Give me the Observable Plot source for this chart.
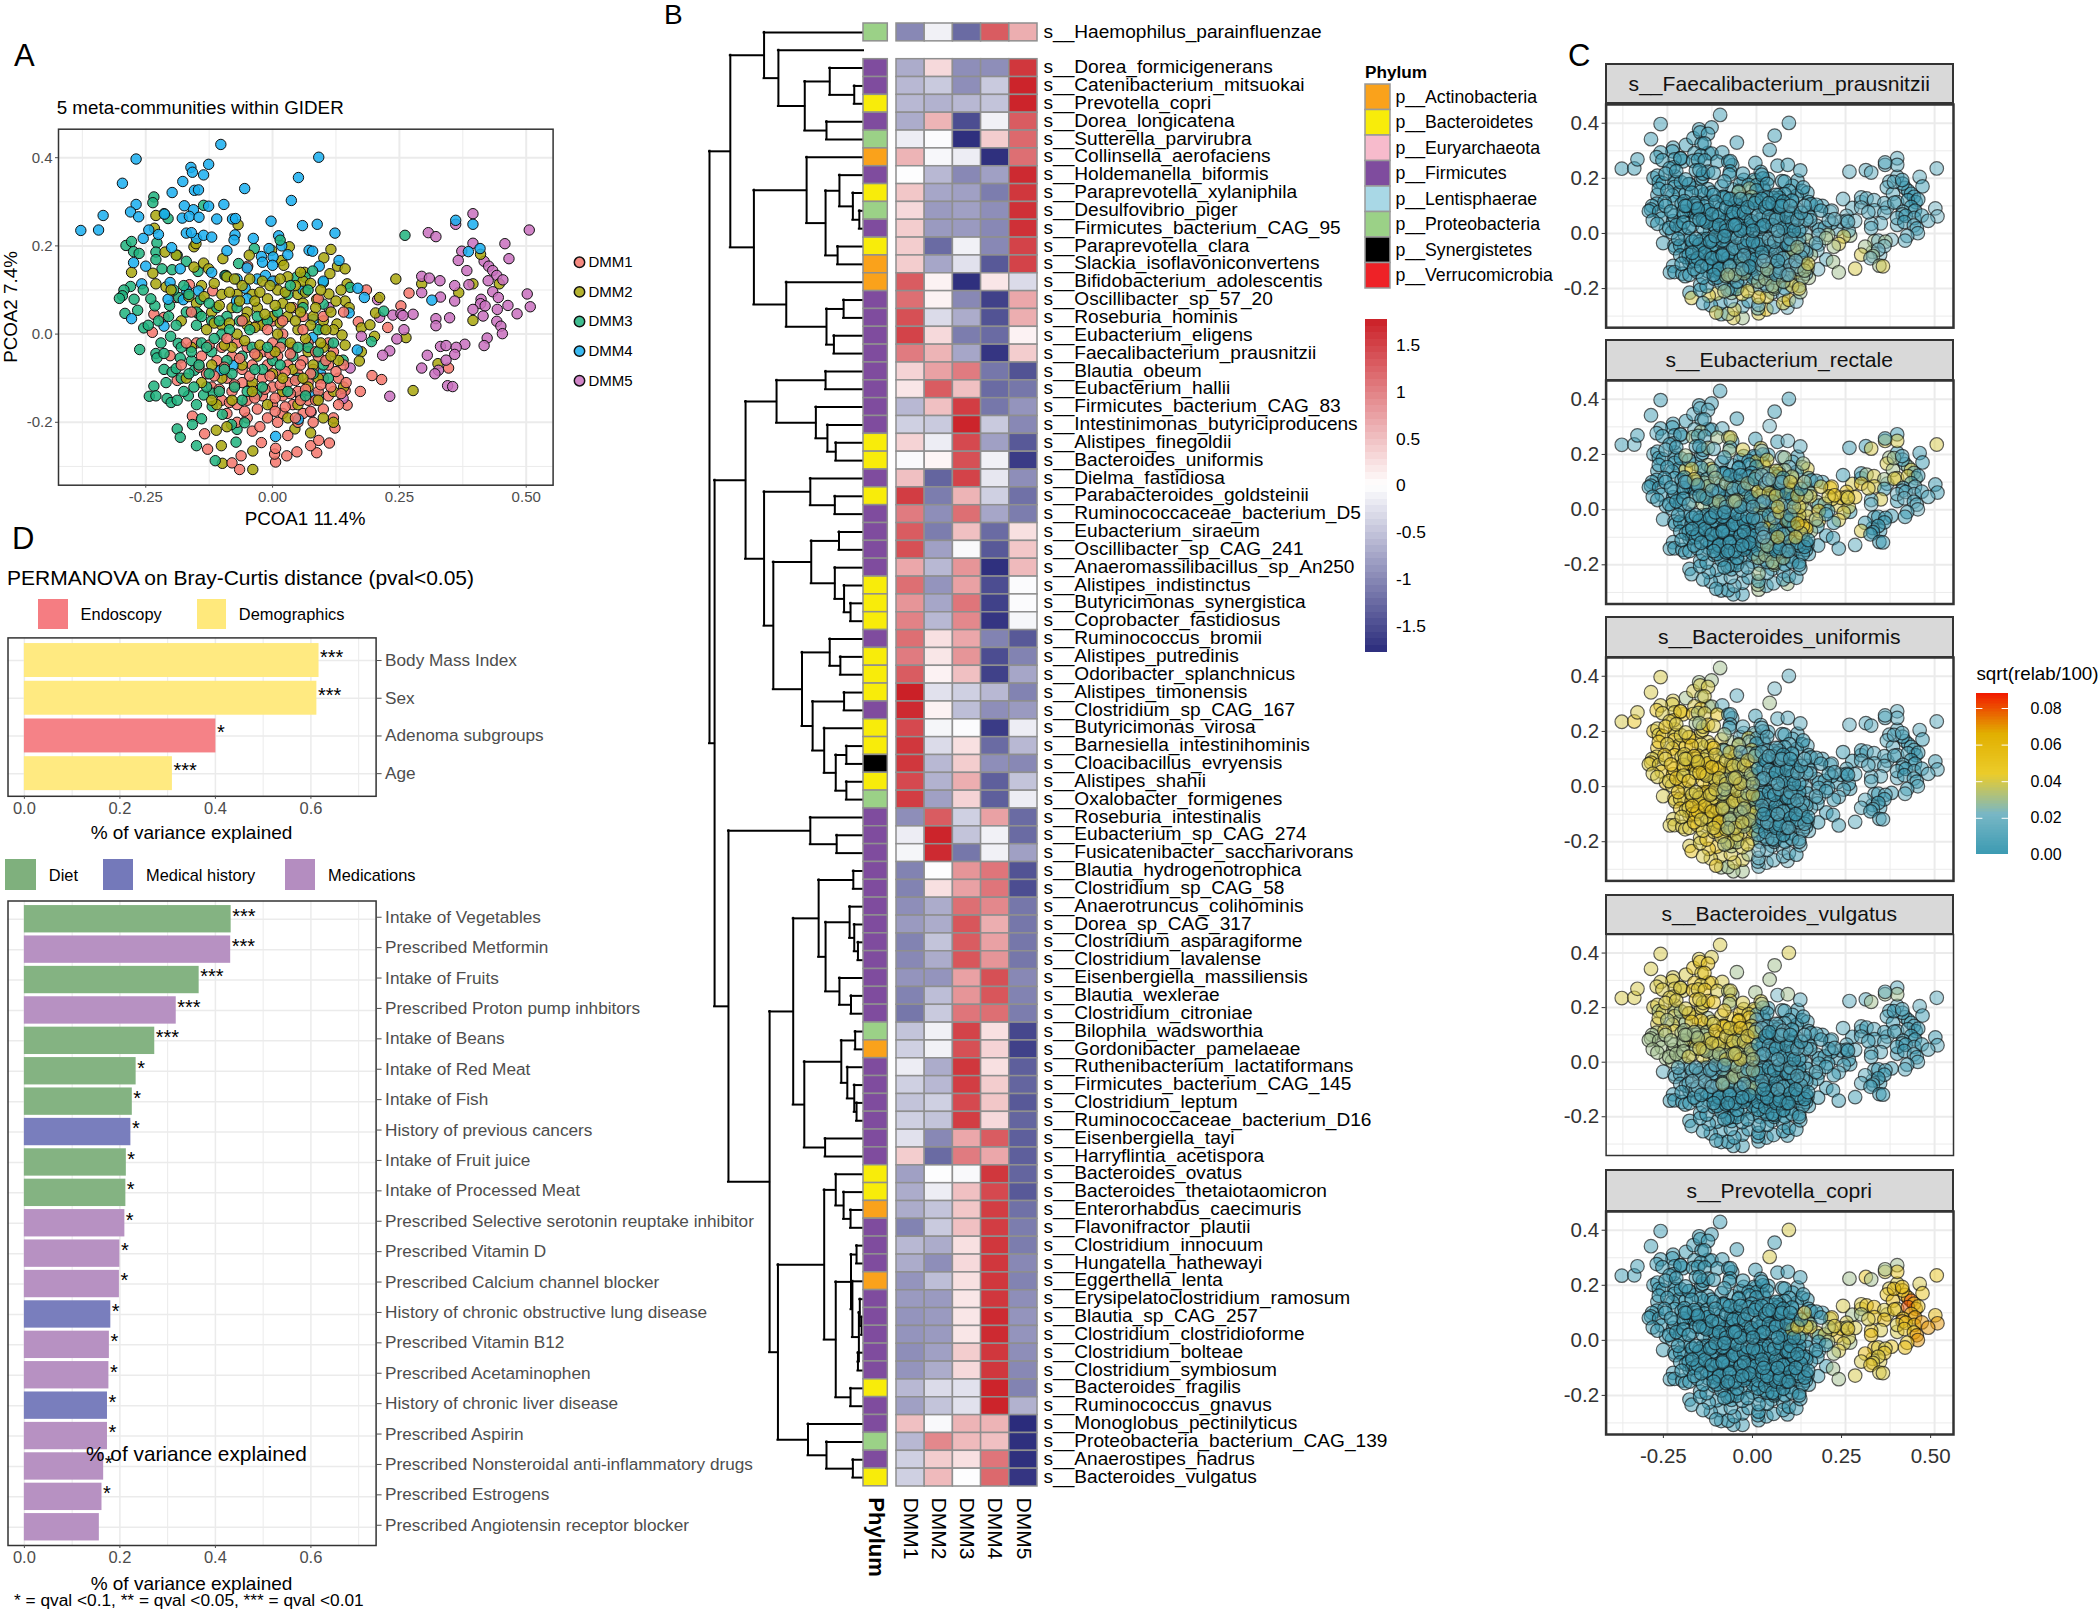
<!DOCTYPE html>
<html><head><meta charset="utf-8">
<script src="https://cdn.jsdelivr.net/npm/d3@7"></script>
<script src="https://cdn.jsdelivr.net/npm/@observablehq/plot@0.6"></script>
<style>
html,body{margin:0;padding:0;background:#fff}
#root{position:relative;width:2100px;height:1611px;overflow:hidden;font-family:"Liberation Sans",Arial,sans-serif}
.lab{position:absolute;white-space:nowrap;line-height:1.1}
svg{font-family:"Liberation Sans",Arial,sans-serif}
</style></head><body><div id="root"></div>
<script>
// ---------- Panel A / C: PCoA coordinates ----------
const dmm1=[[.269,.093],[.253,.064],[.185,.1],[.169,.028],[.227,.015],[.347,-.077],[.196,-.094],[.215,-.103],[.173,-.13],[-.065,-.307],[-.08,-.292],[-.062,-.276],[.006,-.29],[.028,-.276],[.048,-.267],[.087,-.269],[.075,-.253],[.091,-.241],[.112,-.247],[-.022,-.246],[-.128,-.261],[.004,-.272],[.006,-.259],[-.134,-.226],[-.158,-.186],[.123,-.213],[.147,-.161],[.143,-.128],[-.237,.004],[-.234,.045],[-.214,.038],[-.202,-.049],[-.188,-.105],[-.164,.112],[-.19,.083],[-.118,.098],[.004,.12],[-.049,.154],[-.15,-.02],[-.14,-.05],[-.13,-.09],[-.12,-.12],[-.11,-.06],[-.1,-.15],[-.1,-.03],[-.09,-.18],[-.09,-.1],[-.08,-.13],[-.08,-.05],[-.07,-.2],[-.07,-.16],[-.07,-.02],[-.06,-.11],[-.06,-.08],[-.05,-.15],[-.05,-.19],[-.05,-.03],[-.04,-.22],[-.04,-.12],[-.04,-.07],[-.03,-.17],[-.03,.02],[-.02,-.1],[-.02,-.14],[-.02,-.04],[-.01,-.19],[-.01,-.07],[0,-.12],[0,-.16],[0,-.02],[0,.03],[.01,-.2],[.01,-.09],[.01,-.05],[.02,-.14],[.02,-.18],[.02,0],[.03,-.11],[.03,-.07],[.03,-.23],[.04,-.16],[.04,-.03],[.04,.06],[.05,-.09],[.05,-.13],[.05,-.2],[.06,-.06],[.06,-.18],[.06,.04],[.07,-.11],[.07,-.15],[.07,-.02],[.08,-.08],[.08,-.2],[.09,-.13],[.09,-.05],[.09,.08],[.1,-.17],[.1,-.1],[.11,-.02],[.11,-.07],[.11,-.14],[.12,-.19],[.12,-.04],[.13,-.1],[.13,-.16],[.14,-.07],[.14,.05],
[-.145,-.075],[-.125,-.025],[-.115,-.095],[-.105,-.125],[-.095,-.075],[-.085,-.155],[-.075,-.115],[-.065,-.055],[-.055,-.175],[-.045,-.095],[-.035,-.045],[-.035,-.145],[-.025,-.21],[-.015,-.125],[-.005,-.045],[-.005,-.095],[.005,-.175],[.005,-.145],[.015,-.115],[.015,-.03],[.025,-.165],[.025,-.085],[.035,-.135],[.035,-.045],[.045,-.105],[.045,-.19],[.055,-.15],[.055,-.07],[.065,-.125],[.075,-.09],[.075,-.175],[.085,-.04],[.085,-.15],[.095,-.115],[.105,-.06],[.115,-.12],[.125,-.085],[.135,-.135],[.145,-.11],[.02,.03],[-.01,.01],[-.06,.03],[-.09,-.01],[.06,.01],[.1,.04],[-.18,-.07],[-.17,-.02],[-.16,.05]];
const dmm2=[[-.039,-.307],[-.099,-.293],[-.039,-.265],[-.101,-.253],[.044,-.215],[.075,-.224],[-.111,-.218],[.277,-.128],[.326,-.067],[.263,-.008],[.395,.031],[.367,.094],[.243,.125],[.294,.114],[.41,.181],[.395,.114],[.447,.114],[-.23,.269],[-.233,.24],[-.068,.248],[-.278,.14],[-.155,.198],[-.151,.205],[-.236,.138],[-.212,.186],[-.19,.179],[-.23,.114],[-.21,.107],[-.136,.161],[-.126,.148],[-.155,.152],[-.098,.171],[-.046,.179],[-.002,.19],[.033,.198],[.115,.192],[.101,.173],[.018,.167],[.022,.156],[.128,.154],[.143,.148],[.113,.137],[.063,.14],[.147,.114],[.087,.079],[.111,.091],[.143,.075],[.151,.06],[.127,.023],[.175,.014],[.192,.021],[.211,.083],[.203,.048],[.137,-.002],[.143,-.025],[.175,-.04],[.201,-.005],[.171,-.061],[-.18,.03],[-.16,-.03],[-.15,.07],[-.14,.11],[-.13,.01],[-.12,.05],[-.12,-.07],[-.1,.09],[-.1,.02],[-.1,-.1],[-.09,.13],[-.08,.06],[-.08,-.03],[-.07,.09],[-.07,0],[-.06,.11],[-.06,-.07],[-.05,.05],[-.05,.02],[-.04,.09],[-.04,-.11],[-.03,.06],[-.03,-.05],[-.02,.12],[-.02,.02],[-.01,.08],[-.01,-.16],[0,.04],[0,-.09],[.01,.1],[.01,0],[.02,.07],[.02,-.13],[.03,.13],[.03,.04],[.03,-.19],[.04,-.08],[.05,.09],[.05,.01],[.05,-.16],[.06,.12],[.06,.07],[.07,-.04],[.07,-.12],[.08,.04],[.08,-.07],[.09,-.1],[.1,.03],[.1,-.03],[.1,-.19],[.12,.01],[.12,-.13],[.13,-.06],[.14,-.12],[-.11,-.16],[-.14,-.11],[-.17,-.1],[-.09,-.21],[.12,-.2],
[-.165,.085],[-.145,.045],[-.135,.085],[-.115,.115],[-.115,.025],[-.105,.065],[-.095,-.025],[-.085,.095],[-.085,.025],[-.075,.125],[-.065,.075],[-.055,.035],[-.055,-.015],[-.045,.125],[-.035,.075],[-.035,.015],[-.025,.095],[-.025,-.025],[-.015,.045],[-.005,.11],[.005,.065],[.005,-.04],[.015,.125],[.015,.025],[.025,.095],[.035,.06],[.035,-.02],[.045,.11],[.045,.03],[.055,.14],[.055,.05],[.065,.095],[.065,-.01],[.075,.02],[.075,.115],[.085,.06],[.095,.1],[.095,-.02],[.105,.01],[.115,.05],[.125,.075],[.135,.1],[.115,-.05],[-.04,-.13],[.02,-.1],[.06,-.1],[-.12,-.15],[-.08,-.15],[.09,-.15],[-.2,.1]];
const dmm3=[[.261,.224],[-.234,.311],[-.236,.298],[-.136,.292],[-.206,.262],[-.214,.273],[-.289,.201],[-.278,.21],[-.274,.187],[-.263,.183],[-.228,.207],[-.23,.186],[-.23,.169],[-.218,.148],[-.188,.179],[-.17,.165],[-.147,.142],[-.198,.146],[-.036,.194],[-.067,.16],[-.28,.108],[-.293,.1],[-.296,.087],[-.302,.081],[-.273,.079],[-.266,.054],[-.291,.047],[-.254,.014],[-.262,-.035],[-.23,-.044],[-.228,-.054],[-.214,-.044],[-.214,-.08],[-.198,-.086],[-.182,-.054],[-.19,-.078],[-.234,-.118],[-.243,-.141],[-.23,-.14],[-.208,-.146],[-.2,-.155],[-.188,-.15],[-.188,-.215],[-.182,-.234],[-.15,-.253],[-.113,-.287],[-.072,-.245],[-.07,-.216],[-.158,-.205],[-.14,-.192],[-.119,-.164],[-.118,-.134],[-.136,-.138],[-.166,-.14],[-.154,-.082],[-.201,-.005],[-.186,-.021],[-.232,.064],[-.203,.065],[-.185,.083],[-.142,.079],[.1,.117],[.153,.106],[.079,.143],[.064,.129],[.047,.129],[-.092,.133],[.015,.213],[.099,.012],[.139,-.059],[.091,-.142],[.055,-.14],[-.031,-.136],[-.055,-.201],[-.081,-.205],[-.099,-.182],[.195,-.017],[.219,.052],[.1,.068],[-.17,.05],[-.15,.02],[-.14,-.02],[-.12,.03],[-.12,-.04],[-.11,.06],[-.1,0],[-.09,-.06],[-.09,.04],[-.08,-.09],[-.07,.06],[-.06,-.05],[-.05,-.13],[-.04,-.03],[-.03,.04],[-.02,-.08],[-.01,.03],[0,-.06],[.01,.05],[.02,-.02],[.03,.09],[.04,-.05],[.05,-.1],[.06,.06],[.07,-.03],[.08,-.09],[.09,.01],[.1,-.07],[.12,-.02],[-.16,-.06],[-.18,-.1],[-.13,-.12],[-.15,-.16],
[-.255,.1],[-.24,.08],[-.245,.02],[-.225,.03],[-.22,-.02],[-.205,.04],[-.21,-.11],[-.195,.1],[-.19,.02],[-.18,-.03],[-.175,.11],[-.175,-.13],[-.165,.09],[-.165,-.09],[-.16,-.04],[-.155,-.12],[-.15,.05],[-.145,-.07],[-.14,.04],[-.13,-.03],[-.125,.07],[-.125,-.09],[-.115,-.01],[-.105,.03],[-.105,-.13],[-.095,-.08],[-.085,.01],[-.075,-.12],[-.065,.03],[-.06,-.15],[-.045,.01],[-.035,-.08],[-.02,-.12],[-.01,-.03],[.015,-.07],[.03,-.13],[.05,-.03],[.065,-.14],[.09,-.04],[.11,-.1],[.07,.1],[.035,.11]];
const dmm4=[[-.378,.235],[-.343,.236],[-.334,.269],[-.296,.342],[-.269,.397],[-.102,.43],[.091,.401],[.051,.355],[-.055,.33],[.037,.303],[-.198,.321],[-.177,.346],[-.161,.378],[-.158,.367],[-.126,.385],[-.136,.361],[-.154,.326],[-.146,.327],[-.174,.291],[-.156,.282],[-.126,.29],[-.096,.294],[-.269,.294],[-.28,.277],[-.264,.266],[-.213,.272],[-.178,.263],[-.164,.267],[-.145,.265],[-.11,.261],[-.079,.261],[-.073,.262],[-.003,.256],[.059,.246],[.088,.249],[.123,.229],[-.244,.236],[-.255,.217],[-.225,.226],[-.17,.229],[-.15,.217],[-.136,.224],[-.074,.225],[-.076,.213],[-.038,.217],[.012,.223],[-.007,.194],[.018,.2],[-.09,.189],[-.199,.196],[.072,.19],[.079,.188],[-.274,.162],[-.25,.154],[-.182,.148],[-.022,.176],[.001,.175],[-.02,.163],[0,.156],[.131,.167],[.092,.154],[-.258,.114],[-.202,.117],[-.094,.133],[-.07,.125],[-.03,.125],[-.014,.133],[-.146,.098],[-.054,.104],[.168,.104],[.181,.083],[-.176,.078],[-.206,.079],[-.071,.075],[-.278,.035],[-.214,.018],[.08,.033],[.079,-.008],[.151,.048],[.395,.249],[.361,.258],[.314,.077],[.386,.187],[.409,.194],[-.102,-.082],[-.078,-.071],[.095,-.09],[.083,-.14],[.051,-.193],[.006,-.232],[.167,-.036],
[-.16,.23],[-.12,.22],[-.05,.15],[-.12,.14],[0,.12],[.03,.18],[.06,.1],[.1,.12],[-.17,.1],[-.05,.08]];
const dmm5=[[.395,.273],[.361,.249],[.506,.236],[.307,.23],[.322,.221],[.395,.206],[.458,.205],[.373,.188],[.366,.167],[.466,.171],[.417,.165],[.426,.154],[.383,.144],[.434,.144],[.442,.133],[.294,.131],[.309,.127],[.33,.121],[.425,.121],[.454,.123],[.359,.11],[.387,.112],[.294,.094],[.434,.096],[.502,.091],[.331,.084],[.411,.079],[.445,.083],[.359,.075],[.41,.069],[.395,.056],[.419,.064],[.443,.056],[.464,.065],[.508,.062],[.482,.046],[.415,.041],[.349,.037],[.322,.035],[.322,.019],[.442,.029],[.45,.018],[.453,.001],[.259,.01],[.237,.043],[.253,.046],[.277,.045],[.257,.042],[.207,.078],[.211,.038],[.245,-.011],[.423,-.009],[.417,-.026],[.379,-.023],[.331,-.028],[.342,-.026],[.362,-.03],[.359,-.046],[.231,-.038],[.217,-.048],[.305,-.048],[.342,-.059],[.294,-.077],[.327,-.082],[.32,-.09],[.345,-.117],[.355,-.119],[.231,-.141],[.153,-.077],[.139,-.146],[.076,-.177],[.175,-.005],[.111,.06]];
const dmmNames=["DMM1","DMM2","DMM3","DMM4","DMM5"];
const dmmColors=["#F4756B","#A8A60C","#1FB37E","#18AEF0","#C970BE"];

// ---------- Panel C: estimated colour level (x 0.01) by map region, x bins from -0.4 step 0.1, y bins from 0.5 step -0.1 ----------
const faecalibacterium=["0 0 0 0 0 0 0 0 0 0","0 0 0 0 0 0 0 0 0 0","0 0 0 0 0 0 1 1 1 1","0 0 0 00003 0 0 1 1 0 1","0 0 0 0 001 01 12 1 01 2","0 0 0 001 012 123 34 23 1 2","0 0 0 013 123 234 34 34 3 3","0 0 04 0134 1245 234 4 4 4 4","3 3 4 34 45 4 4 4 4 4"];
const rectale=["0 0 0 0 01 0 0 0 0 0","0 0 01 013 024 0 0 0 0 0","01 01 013 0134 024 14 0 04 03 4","01 0 0134 0 0234 0134 0 34 0134 0","0 0 013 013 024 034 45 024 012 0","0 0 0 0 0124 0345 04 0 0 0","0 0 0 0 013 0 01 0 0 0","0 0 0 01 013 014 0 0 0 0","0 0 0 0 0 0 0 0 0 0"];
const uniformis=["4 3 3 1 1 1 1 1 1 1","4 4 34 12 23 1 1 1 1 1","45 45 345 01 1 1 1 1 1 1","4 45 45 234 01 01 01 1 01 1","4 45 45 34 01 01 01 1 01 01","4 45 45 34 01 01 01 01 01 1","4 4 45 34 01 01 01 01 0 1","4 45 45 34 12 01 1 0 0 0","4 4 3 3 1 1 1 1 1 1"];
const vulgatus=["4 4 4 5 4 4 1 1 1 1","4 4 45 34 3 4 1 1 1 1","4 4 45 34 234 1 1 13 1 1","4 34 345 45 012 01 1 01 01 1","3 3 34 34 01 01 01 01 01 01","2 1 12 13 01 01 01 01 01 01","0 0 0 0 0 0 0 0 0 0","0 0 0 0 0 0 0 0 0 0","0 0 0 0 0 0 0 0 0 0"];
const copri=["0 0 0 0 4 4 0 0 0 0","0 0 0 0 04 0 0 0 0 0","0 0 0 0 0 0 3 345 4678 5","0 0 0 0 0 0 4 456 5678 5","0 0 0 0 0 04 345 4456 5677 67","0 0 0 0 0 0 34 4456 567 6","0 0 0 0 0 0 34 44 4 4","0 0 0 0 0 0 0 0 0 0","0 0 0 0 0 0 0 0 0 0"];
const facetNames=["s__Faecalibacterium_prausnitzii","s__Eubacterium_rectale","s__Bacteroides_uniformis","s__Bacteroides_vulgatus","s__Prevotella_copri"];

// ---------- Panel B ----------
const species=["Haemophilus_parainfluenzae","Dorea_formicigenerans","Catenibacterium_mitsuokai","Prevotella_copri","Dorea_longicatena","Sutterella_parvirubra","Collinsella_aerofaciens","Holdemanella_biformis","Paraprevotella_xylaniphila","Desulfovibrio_piger","Firmicutes_bacterium_CAG_95","Paraprevotella_clara","Slackia_isoflavoniconvertens","Bifidobacterium_adolescentis","Oscillibacter_sp_57_20","Roseburia_hominis","Eubacterium_eligens","Faecalibacterium_prausnitzii","Blautia_obeum","Eubacterium_hallii","Firmicutes_bacterium_CAG_83","Intestinimonas_butyriciproducens","Alistipes_finegoldii","Bacteroides_uniformis","Dielma_fastidiosa","Parabacteroides_goldsteinii","Ruminococcaceae_bacterium_D5","Eubacterium_siraeum","Oscillibacter_sp_CAG_241","Anaeromassilibacillus_sp_An250","Alistipes_indistinctus","Butyricimonas_synergistica","Coprobacter_fastidiosus","Ruminococcus_bromii","Alistipes_putredinis","Odoribacter_splanchnicus","Alistipes_timonensis","Clostridium_sp_CAG_167","Butyricimonas_virosa","Barnesiella_intestinihominis","Cloacibacillus_evryensis","Alistipes_shahii","Oxalobacter_formigenes","Roseburia_intestinalis","Eubacterium_sp_CAG_274","Fusicatenibacter_saccharivorans","Blautia_hydrogenotrophica","Clostridium_sp_CAG_58","Anaerotruncus_colihominis","Dorea_sp_CAG_317","Clostridium_asparagiforme","Clostridium_lavalense","Eisenbergiella_massiliensis","Blautia_wexlerae","Clostridium_citroniae","Bilophila_wadsworthia","Gordonibacter_pamelaeae","Ruthenibacterium_lactatiformans","Firmicutes_bacterium_CAG_145","Clostridium_leptum","Ruminococcaceae_bacterium_D16","Eisenbergiella_tayi","Harryflintia_acetispora","Bacteroides_ovatus","Bacteroides_thetaiotaomicron","Enterorhabdus_caecimuris","Flavonifractor_plautii","Clostridium_innocuum","Hungatella_hathewayi","Eggerthella_lenta","Erysipelatoclostridium_ramosum","Blautia_sp_CAG_257","Clostridium_clostridioforme","Clostridium_bolteae","Clostridium_symbiosum","Bacteroides_fragilis","Ruminococcus_gnavus","Monoglobus_pectinilyticus","Proteobacteria_bacterium_CAG_139","Anaerostipes_hadrus","Bacteroides_vulgatus"];
const phylumOf="P F F B F P A F B P F B A A F F F F F F F F B B F B F F F F B B B F B B B F B B S B P F F F F F F F F F F F F P A F F F F F F B B A F F F A F F F F F B F F P F B".split(" ");
const heat=[[-1,-.12,-1.25,1.3,.65],[-.7,.3,-.95,-.95,1.6],[-.6,-.45,-.95,-.45,1.75],[-.6,-.65,-.6,-.5,1.75],[-.7,.6,-1.5,-.12,1.3],[-.15,-.03,-1.75,.4,1.2],[.6,-.07,-.15,-1.75,1.15],[-.02,-.6,-1,-.8,1.7],[.45,-.75,-.8,-1.1,1.6],[.3,-.85,-.8,-.95,1.65],[.4,-.85,-.85,-1,1.65],[.4,-1.25,-.12,-1,1.5],[.4,-.75,-.25,-1.4,1.5],[1.3,.1,-1.75,.2,-.3],[1.15,.1,-1,-1.6,.7],[1.4,-.3,-.7,-1.45,.65],[1.5,.3,-1.1,-1.25,.1],[1.05,.6,-.75,-1.7,.4],[.35,.75,1.05,-1.15,-1.45],[.2,1.3,.5,-1.25,-1.15],[-.6,.5,1.55,-1.15,-.9],[-.4,-.45,1.75,-.45,-1],[.35,-.15,1.45,-.8,-1.4],[-.05,.08,1.4,-.12,-1.65],[.5,-1.3,1.5,-.2,-.95],[1.55,-1.1,.6,-.4,-1.2],[1.05,-.95,1.15,-.75,-1.1],[1.3,-1.1,.5,-1.25,.25],[1.4,-.8,-.05,-1.4,.45],[.7,-.6,.85,-1.75,.55],[1.15,-.9,.75,-1.5,-.03],[.85,-.75,1.1,-1.6,-.03],[1,-.6,.95,-1.7,-.08],[1.15,.25,.7,-1.05,-1.4],[1.05,.2,.85,-1.5,-1.05],[1.3,.1,.5,-1.6,-.75],[1.78,-.25,-.4,-.6,-1.05],[1.7,.1,-.55,-.95,-.85],[1.45,-.08,-.03,-1.65,-.15],[1.6,-.3,.25,-1.25,-.6],[1.6,-.6,.4,-.95,-1],[1.45,-.65,.65,-1.35,-.5],[1.55,-.8,.35,-1.35,-.15],[-.95,1.3,-.4,.75,-1.25],[-.15,1.75,-.5,-.12,-1.25],[-.08,1.7,-1.15,-.12,-.8],[-1.05,-.02,.85,1.1,-1.45],[-1.05,.25,.75,1.1,-1.5],[-.95,-.7,1.15,.95,-1.15],[-.85,-.7,1.35,.65,-1.15],[-1.05,-.5,1.3,.75,-1.15],[-1,-.7,1.35,.85,-1.15],[-.9,-.9,.75,1.4,-1],[-1.05,-.55,.85,1.35,-1.05],[-1.15,-.45,1.1,1.15,-1.1],[-.5,-.12,1.5,.25,-1.55],[-.4,-.12,1.4,.35,-1.6],[-.15,-.7,1.6,.25,-1.35],[-.4,-.6,1.55,.4,-1.3],[-.5,-.4,1.45,.45,-1.4],[-.4,-.5,1.55,.3,-1.3],[-.25,-1,.7,1.3,-1.35],[.4,-1.25,1.05,.7,-1.35],[-.8,-.02,-.05,1.6,-1.3],[-.7,-.15,.5,1.45,-1.4],[-.7,-.5,.45,1.55,-1.2],[-1.05,-.45,.5,1.55,-1.1],[-.6,-.7,.25,1.6,-1.1],[-.7,-.95,.3,1.6,-1],[-.9,-.55,.25,1.6,-1.05],[-.85,-.85,.2,1.6,-.95],[-.9,-.85,.2,1.7,-.9],[-.9,-.85,.2,1.7,-.9],[-.95,-.8,.4,1.6,-.95],[-.9,-.7,.3,1.6,-1],[-.6,-.3,-.25,1.75,-1.05],[-.8,-.5,-.25,1.75,-.65],[.5,-.05,.6,.6,-1.78],[-.6,.95,.55,.5,-1.75],[-.4,.4,.25,1.1,-1.75],[-.4,.55,-.02,1.2,-1.7]];
const phylumNames=["p__Actinobacteria","p__Bacteroidetes","p__Euryarchaeota","p__Firmicutes","p__Lentisphaerae","p__Proteobacteria","p__Synergistetes","p__Verrucomicrobia"];
const phylumCodes=["A","B","E","F","L","P","S","V"];
const phylumColors=["#FAA21B","#F8EC0A","#F7BBCC","#7F4C9E","#A9D8E6","#9BD187","#000000","#EE2227"];
const heatTicks=[1.5,1,.5,0,-.5,-1,-1.5];
// merge heights [height, childA, childB]; a number is a row position
const dendrogram=[333,
 [288,
  [215,0,[184,1,[127,[73,2,[20,3,4]],[80,5,6]]]],
  [237,[123,7,[82,[52,8,[23,9,[9,10,11]]],[56,12,13]]],[167,14,[80,[43,15,16],[64,17,18]]]]],
 [322,
  [255,
   [188,[82,19,20],[103,21,[78,22,[60,23,24]]]],
   [215,[115,25,[62,26,27]],
    [195,[113,[53,28,29],[62,30,[42,31,[28,32,33]]]],
     [133,[73,34,[50,35,36]],[110,[42,37,38],[85,39,[60,[37,40,41],[37,42,43]]]]]]]],
  [292,[115,44,[58,45,46]],
   [203,
    [152,
     [97,[22,47,48],[82,[30,49,[20,50,[12,51,52]]],[52,53,[27,54,55]]]],
     [128,[48,[18,56,57],[35,58,[20,59,[15,60,61]]]],[83,62,63]]],
    [185,
     [85,[60,64,[43,65,[28,66,67]]],
      [60,[27,[15,68,69],[24,70,[10,[8,71,[4,72,73]],[12,74,75]]]],[28,76,77]]],
     [120,78,[80,79,[23,80,81]]]]]]]];

// ---------- Panel D ----------
const topNames=["Body Mass Index","Sex","Adenoma subgroups","Age"];
const topValues=[.617,.6125,.401,.31];
const topGroups=["Demographics","Demographics","Endoscopy","Demographics"];
const topStars=["***","***","*","***"];
const lowNames=["Intake of Vegetables","Prescribed Metformin","Intake of Fruits","Prescribed Proton pump inhbitors","Intake of Beans","Intake of Red Meat","Intake of Fish","History of previous cancers","Intake of Fruit juice","Intake of Processed Meat","Prescribed Selective serotonin reuptake inhibitor","Prescribed Vitamin D","Prescribed Calcium channel blocker","History of chronic obstructive lung disease","Prescribed Vitamin B12","Prescribed Acetaminophen","History of chronic liver disease","Prescribed Aspirin","Prescribed Nonsteroidal anti-inflammatory drugs","Prescribed Estrogens","Prescribed Angiotensin receptor blocker"];
const lowValues=[.433,.432,.366,.318,.273,.234,.226,.223,.2135,.2125,.2104,.2,.199,.181,.178,.177,.174,.174,.166,.1625,.157];
const lowGroups=["Diet","Medications","Diet","Medications","Diet","Diet","Diet","Medical history","Diet","Diet","Medications","Medications","Medications","Medical history","Medications","Medications","Medical history","Medications","Medications","Medications","Medications"];
const lowStars=["***","***","***","***","***","*","*","*","*","*","*","*","*","*","*","*","*","*","*","*",""];
const groupNames=["Endoscopy","Demographics","Diet","Medical history","Medications"];
const groupColors=["#F57D82","#FFE97C","#7FB07D","#7479BA","#B48DC0"];

// ---------- helpers ----------
const root=document.getElementById("root");
const FONT={fontFamily:'"Liberation Sans",Arial,sans-serif',background:"transparent",overflow:"visible"};
function place(p,l,t){p.style.position="absolute";p.style.left=l+"px";p.style.top=t+"px";p.style.maxWidth="none";root.append(p);}
function lab(x,y,text,o={}){const d=document.createElement("div");d.className="lab";d.textContent=text;
 d.style.left=x+"px";d.style.top=y+"px";d.style.fontSize=(o.size||16)+"px";d.style.color=o.color||"#000";
 d.style.fontWeight=o.weight||"normal";const tx=o.anchor==="middle"?"-50%":"0";
 d.style.transform=`translate(${tx},-50%)`+(o.rotate?` rotate(${o.rotate}deg)`:"");root.append(d);}
function swatch(x,y,w,h,c){const d=document.createElement("div");d.style.cssText=`position:absolute;left:${x}px;top:${y}px;width:${w}px;height:${h}px;background:${c}`;root.append(d);}
const fixed=(n)=>d=>d.toFixed(n);
const GRID="#ebebeb";

// ---------- points table ----------
const groups=[dmm1,dmm2,dmm3,dmm4,dmm5];
const points=groups.flatMap((g,k)=>g.map((p,i)=>({x:p[0],y:p[1],dmm:dmmNames[k],i}))).sort((a,b)=>d3.ascending(a.i,b.i));
const xDomain=[-.422,.553],yDomain=[-.3426,.4646];

// ---------- Panel A ----------
place(Plot.plot({width:560,height:420,marginLeft:58,marginRight:7.4,marginTop:8.7,marginBottom:55.3,style:FONT,
 x:{domain:xDomain,label:null},y:{domain:yDomain,label:null},
 color:{domain:dmmNames,range:dmmColors},
 marks:[
  Plot.ruleX([-.375,-.125,.125,.375],{stroke:GRID,strokeWidth:1}),Plot.ruleY([-.3,-.1,.1,.3],{stroke:GRID,strokeWidth:1}),
  Plot.ruleX([-.25,0,.25,.5],{stroke:GRID,strokeWidth:2}),Plot.ruleY([-.2,0,.2,.4],{stroke:GRID,strokeWidth:2}),
  Plot.dot(points,{x:"x",y:"y",fill:"dmm",r:5.2,fillOpacity:.85,stroke:"#111",strokeWidth:1}),
  Plot.frame({stroke:"#333",strokeWidth:1.5}),
  Plot.axisX({ticks:[-.25,0,.25,.5],tickFormat:fixed(2),tickSize:3,tickPadding:3,fontSize:15,color:"#4d4d4d",label:null}),
  Plot.axisY({ticks:[-.2,0,.2,.4],tickFormat:fixed(1),tickSize:3,tickPadding:3,fontSize:15,color:"#4d4d4d",label:null})
 ]}),0,120);
place(Plot.plot({width:90,height:148,marginLeft:0,marginRight:76,marginTop:0,marginBottom:0,style:FONT,
 y:{type:"band",domain:dmmNames,padding:0,round:false,label:null},color:{domain:dmmNames,range:dmmColors},
 marks:[Plot.dot(dmmNames,{y:d=>d,frameAnchor:"left",dx:5,r:5.2,fill:d=>d,fillOpacity:.85,stroke:"#111"}),
  Plot.axisY({anchor:"right",tickSize:0,tickPadding:0,fontSize:15,label:null})]}),573.8,246.8);
lab(14,56,"A",{size:31});
lab(56.7,108.4,"5 meta-communities within GIDER",{size:18.8});
lab(305,519,"PCOA1 11.4%",{size:18.8,anchor:"middle"});
lab(10.5,307,"PCOA2 7.4%",{size:18.8,anchor:"middle",rotate:-90});

// ---------- Panel D ----------
function barsPanel(names,vals,grps,stars,top,height,marginTop,labelDy){
 const rows=names.map((n,i)=>({name:n,value:vals[i],group:grps[i],star:stars[i]}));
 place(Plot.plot({width:780,height,marginLeft:7.5,marginRight:404.4,marginTop,marginBottom:30,style:FONT,
  x:{domain:[-.0343,.7365],label:null},y:{domain:names,paddingInner:.1,paddingOuter:.15,round:false,label:null},
  color:{domain:groupNames,range:groupColors},
  marks:[
   Plot.ruleX([.1,.3,.5,.7],{stroke:GRID,strokeWidth:1}),
   Plot.ruleX([0,.2,.4,.6],{stroke:GRID,strokeWidth:1.5}),
   Plot.ruleY(names,{y:d=>d,stroke:GRID,strokeWidth:1.5}),
   Plot.barX(rows,{x:"value",y:"name",fill:"group",fillOpacity:.96}),
   Plot.text(rows,{x:"value",y:"name",text:"star",dx:1,dy:-3,textAnchor:"start",fontSize:20,fill:"#000"}),
   Plot.frame({stroke:"#333",strokeWidth:1.5}),
   Plot.axisX({ticks:[0,.2,.4,.6],tickFormat:fixed(1),tickSize:3,tickPadding:3,fontSize:16.5,color:"#4d4d4d",label:null}),
   Plot.axisY({anchor:"right",tickSize:5,tickPadding:4,fontSize:17.2,color:"#4d4d4d",label:null,dy:labelDy})
  ]}),0,top);
}
barsPanel(topNames,topValues,topGroups,topStars,630,195.8,7.4,0);
barsPanel(lowNames,lowValues,lowGroups,lowStars,890,685,10.5,-2);
lab(12,539,"D",{size:31});
lab(7,578,"PERMANOVA on Bray-Curtis distance (pval<0.05)",{size:21});
swatch(37.8,599,30.2,30,groupColors[0]);lab(80.6,614,"Endoscopy",{size:16.4});
swatch(196.5,599,29.5,30,groupColors[1]);lab(238.8,614,"Demographics",{size:16.4});
lab(191.5,833,"% of variance explained",{size:19,anchor:"middle"});
swatch(5,859,31,31,groupColors[2]);lab(48.8,874.5,"Diet",{size:16.4});
swatch(103,859,30,31,groupColors[3]);lab(146,874.5,"Medical history",{size:16.4});
swatch(285,859,30,31,groupColors[4]);lab(328,874.5,"Medications",{size:16.4});
lab(196.5,1453.5,"% of variance explained",{size:20.8,anchor:"middle"});
lab(191.5,1583.5,"% of variance explained",{size:19,anchor:"middle"});
lab(14,1601,"* = qval <0.1, ** = qval <0.05, *** = qval <0.01",{size:17.3});

// ---------- Panel B ----------
const rowLabels=[];species.forEach((s,i)=>{rowLabels.push("s__"+s);if(i===0)rowLabels.push(" ");});
const heatRows=species.flatMap((s,i)=>heat[i].map((v,j)=>({row:"s__"+s,col:dmmNames[j],v})));
const annotRows=species.map((s,i)=>({row:"s__"+s,code:phylumOf[i]}));
const bTop=20.9,bHeight=1467;
// dendrogram
const vSegs=[],hSegs=[];
(function walk(n){
 if(typeof n==="number")return {y:n,h:0};
 const a=walk(n[1]),b=walk(n[2]),h=n[0];
 vSegs.push({h,y1:a.y,y2:b.y});
 hSegs.push({y:a.y,h1:h,h2:a.h},{y:b.y,h1:h,h2:b.h});
 return {y:(a.y+b.y)/2,h};
})(dendrogram);
place(Plot.plot({width:160,height:bHeight,marginLeft:4,marginRight:2,marginTop:2,marginBottom:2,style:FONT,
 x:{domain:[333,0],axis:null},y:{domain:[81.5,-.5],axis:null},
 marks:[
  Plot.ruleY(hSegs,{y:"y",x1:"h1",x2:"h2",stroke:"#000",strokeWidth:2,strokeLinecap:"square"}),
  Plot.ruleX(vSegs,{x:"h",y1:"y1",y2:"y2",stroke:"#000",strokeWidth:2,strokeLinecap:"square"})
 ]}),704.9,bTop);
// annotation column
place(Plot.plot({width:28.3,height:bHeight+100,marginLeft:2,marginRight:2,marginTop:2,marginBottom:102,style:FONT,
 x:{domain:["Phylum"],padding:0,round:false,label:null},y:{domain:rowLabels,padding:0,round:false,axis:null},
 color:{domain:phylumCodes,range:phylumColors},
 marks:[
  Plot.cell(annotRows,{x:()=>"Phylum",y:"row",fill:"code",stroke:"#8f8f8f",strokeWidth:1.5}),
  Plot.axisX({anchor:"bottom",tickSize:0,tickPadding:11,tickRotate:90,fontSize:22,fontWeight:"bold",label:null})
 ]}),861.4,bTop);
// heat map
place(Plot.plot({width:520,height:bHeight+100,marginLeft:2,marginRight:377,marginTop:2,marginBottom:102,style:FONT,
 x:{domain:dmmNames,padding:0,round:false,label:null},y:{domain:rowLabels,padding:0,round:false,label:null},
 color:{type:"linear",domain:[-1.78,0,1.78],range:["#2b2c7c","#ffffff","#cb2027"],interpolate:"rgb"},
 marks:[
  Plot.cell(heatRows,{x:"col",y:"row",fill:"v",stroke:"#8f8f8f",strokeWidth:1.5}),
  Plot.axisX({anchor:"bottom",tickSize:0,tickPadding:11,tickRotate:90,fontSize:21,label:null}),
  Plot.axisY({anchor:"right",tickSize:0,tickPadding:6,fontSize:19.1,color:"#000",label:null,dy:-1})
 ]}),893.5,bTop);
lab(664,15,"B",{size:28});
lab(1365,71.6,"Phylum",{size:17.2,weight:"bold"});
// phylum legend
place(Plot.plot({width:230,height:208,marginLeft:2,marginRight:203,marginTop:2,marginBottom:2,style:FONT,
 x:{domain:["a"],padding:0,axis:null},y:{domain:phylumNames,padding:0,round:false,label:null},
 color:{domain:phylumNames,range:phylumColors},
 marks:[
  Plot.cell(phylumNames,{x:()=>"a",y:d=>d,fill:d=>d,stroke:"#999",strokeWidth:1.5}),
  Plot.axisY({anchor:"right",tickSize:0,tickPadding:5,fontSize:17.7,color:"#000",label:null})
 ]}),1363,82);
// heat legend
const heatStops=d3.range(50).map(i=>-1.78+i*3.56/50);
place(Plot.plot({width:70,height:336.6,marginLeft:2,marginRight:46.2,marginTop:2,marginBottom:2,style:FONT,
 x:{domain:[0,1],axis:null},y:{domain:[-1.78,1.78],label:null},
 color:{type:"linear",domain:[-1.78,0,1.78],range:["#2b2c7c","#ffffff","#cb2027"],interpolate:"rgb"},
 marks:[
  Plot.rect(heatStops,{x1:0,x2:1,y1:d=>d,y2:d=>d+3.56/50,fill:d=>d+1.78/50,shapeRendering:"crispEdges"}),
  Plot.axisY({anchor:"right",ticks:heatTicks,tickFormat:d=>String(d),tickSize:0,tickPadding:8.7,fontSize:17.4,color:"#000",label:null})
 ]}),1363.2,317);

// ---------- Panel C ----------
const zissou=["#3B9AB2","#78B7C5","#EBCC2A","#E1AF00","#F21A00"],zDomain=[0,.022,.044,.066,.088];
function levelFor(table){
 const grid=table.map(r=>r.split(" ")),seen={};
 return points.map(p=>{
  const c=Math.max(0,Math.min(9,Math.floor((p.x+.4)/.1))),r=Math.max(0,Math.min(8,Math.floor((.5-p.y)/.1)));
  const k=r+"-"+c;seen[k]=(seen[k]||0)+1;const s=grid[r][c];
  return {x:p.x,y:p.y,v:+s[(seen[k]-1)%s.length]/100};
 });
}
const facetTables=[faecalibacterium,rectale,uniformis,vulgatus,copri];
const stripTop=[62.7,339.4,616,893.6,1169],panelTop=[103.5,380,657,934,1211],panelBottom=[326.7,603.5,880.4,1155,1434];
facetNames.forEach((name,i)=>{
 const last=i===4,h=panelBottom[i]-panelTop[i];
 const marks=[
  Plot.ruleX([-.375,-.125,.125,.375],{stroke:GRID,strokeWidth:1}),Plot.ruleY([-.3,-.1,.1,.3],{stroke:GRID,strokeWidth:1}),
  Plot.ruleX([-.25,0,.25,.5],{stroke:GRID,strokeWidth:2}),Plot.ruleY([-.2,0,.2,.4],{stroke:GRID,strokeWidth:2}),
  Plot.dot(levelFor(facetTables[i]),{x:"x",y:"y",fill:"v",r:6.8,fillOpacity:.5,stroke:"#111",strokeOpacity:.65,strokeWidth:1.2,clip:true}),
  Plot.frame({stroke:"#333",strokeWidth:i===3?1.5:2.5}),
  Plot.axisY({ticks:[-.2,0,.2,.4],tickFormat:fixed(1),tickSize:4,tickPadding:3,fontSize:20.5,color:"#333",label:null})
 ];
 if(last)marks.push(Plot.axisX({ticks:[-.25,0,.25,.5],tickFormat:fixed(2),tickSize:4,tickPadding:10,dx:-4,fontSize:20.5,color:"#333",label:null}));
 place(Plot.plot({width:420,height:h+42,marginLeft:65.6,marginRight:7,marginTop:2,marginBottom:40,style:FONT,
  x:last?{domain:xDomain,label:null}:{domain:xDomain,axis:null},y:{domain:[-.342,.468],label:null},
  color:{type:"linear",domain:zDomain,range:zissou,interpolate:"rgb"},marks}),1540,panelTop[i]-2);
 const st=document.createElement("div");
 st.style.cssText=`position:absolute;box-sizing:border-box;left:1605px;top:${stripTop[i]}px;width:348.5px;height:${panelTop[i]-stripTop[i]+1}px;background:#d9d9d9;border:2.5px solid #333;display:flex;align-items:center;justify-content:center;font-size:21.1px;color:#111`;
 st.textContent=name;root.append(st);
});
lab(1568,56,"C",{size:31});
lab(1976.4,674,"sqrt(relab/100)",{size:18.8});
const barStops=d3.range(100).map(i=>i*.0882/100),barTicks=[0,.02,.04,.06,.08];
place(Plot.plot({width:125,height:165.4,marginLeft:2,marginRight:91,marginTop:2,marginBottom:2,style:FONT,
 x:{domain:[0,1],axis:null},y:{domain:[0,.0882],label:null},
 color:{type:"linear",domain:zDomain,range:zissou,interpolate:"rgb"},
 marks:[
  Plot.rect(barStops,{x1:0,x2:1,y1:d=>d,y2:d=>d+.0882/100,fill:d=>d+.0441/100,shapeRendering:"crispEdges"}),
  Plot.ruleY(barTicks,{x1:0,x2:.2,stroke:"#fff"}),Plot.ruleY(barTicks,{x1:.8,x2:1,stroke:"#fff"}),
  Plot.axisY({anchor:"right",ticks:barTicks,tickFormat:fixed(2),tickSize:0,tickPadding:22,fontSize:16,color:"#000",label:null})
 ]}),1973.7,690.9);
</script></body></html>
